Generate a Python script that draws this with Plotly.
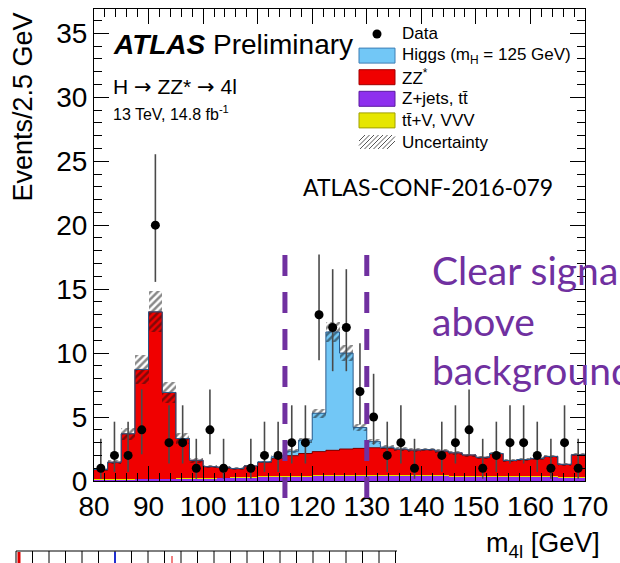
import math
import numpy as np
import plotly.graph_objects as go

# ---------------- data ----------------
bin_lo, bin_hi, bin_w = 80.0, 170.0, 2.5
data_counts = [1, 2, 2, 4, 20, 3, 3, 1, 4, 1, 0, 1, 2, 2, 3, 3, 13, 12, 12, 7, 5, 2, 3, 1,
               0, 2, 3, 4, 1, 2, 3, 3, 2, 1, 3, 1]
zjets = [0.12, 0.14, 0.15, 0.16, 0.17, 0.17, 0.18, 0.19, 0.22, 0.24, 0.27, 0.30,
         0.34, 0.36, 0.38, 0.39, 0.40, 0.41, 0.41, 0.42, 0.42, 0.42, 0.42, 0.41,
         0.41, 0.40, 0.39, 0.38, 0.37, 0.36, 0.35, 0.34, 0.33, 0.32, 0.31, 0.30]
ttv = [0.02] * 12 + [0.04] * 24
zz = [0.76, 1.31, 3.52, 8.54, 13.03, 6.73, 3.12, 1.41, 0.88, 0.81, 0.68, 0.85,
      1.07, 1.35, 1.56, 1.72, 1.86, 1.95, 2.05, 2.09, 2.14, 2.09, 2.01, 1.97,
      2.00, 1.90, 1.77, 1.61, 1.44, 1.75, 1.21, 1.30, 1.38, 1.56, 0.95, 1.71]
higgs = [0.0] * 12 + [0.04, 0.15, 0.35, 1.05, 3.0, 9.25, 7.5, 1.63, 0.48, 0.1, 0.03] + [0.0] * 13
unc = [0.10, 0.17, 0.45, 1.10, 1.60, 0.80, 0.40, 0.20, 0.12, 0.11, 0.10, 0.10,
       0.10, 0.12, 0.15, 0.20, 0.35, 0.80, 0.65, 0.25, 0.18, 0.15, 0.14, 0.14,
       0.14, 0.14, 0.13, 0.12, 0.11, 0.13, 0.10, 0.10, 0.11, 0.12, 0.09, 0.12]
x_ticks = [80, 90, 100, 110, 120, 130, 140, 150, 160, 170]
y_ticks = [0, 5, 10, 15, 20, 25, 30, 35]
window_lo, window_hi = 115, 130

legend_labels = ["Data", "Higgs (m<sub>H</sub> = 125 GeV)", "ZZ<sup>*</sup>",
                 "Z+jets, tt\u0304", "tt\u0304+V, VVV", "Uncertainty"]

# ---------------- styling ----------------
C_HIGGS = "#72C7F6"
C_ZZ = "#F00000"
C_ZJ = "#8E30EE"
C_TTV = "#E6E600"
C_PURPLE = "#7030A0"
FONT = "Liberation Sans, Arial, Helvetica, sans-serif"
FONT2 = "Lato, Open Sans, sans-serif"

W, H = 620, 563
ML, MR, MT, MB = 94, 35, 9, 82
PW, PH = W - ML - MR, H - MT - MB


def px(x):
    return (x - ML) / PW


def py(y):
    return (H - MB - y) / PH


edges = np.arange(bin_lo, bin_hi + 1e-9, bin_w)
centers = edges[:-1] + bin_w / 2
zj = np.array(zjets)
tv = np.array(ttv)
zzv = np.array(zz)
hg = np.array(higgs)
un = np.array(unc)
base_ttv = zj
base_zz = zj + tv
bkg = zj + tv + zzv
total = bkg + hg


# Garwood (Poisson) 68% intervals for the data error bars
def pcdf(k, lam):
    s, term = 0.0, math.exp(-lam)
    for i in range(k + 1):
        if i > 0:
            term *= lam / i
        s += term
    return s


def solve(f, lo, hi):
    for _ in range(100):
        mid = 0.5 * (lo + hi)
        if f(mid) > 0:
            lo = mid
        else:
            hi = mid
    return 0.5 * (lo + hi)


a = 0.158655
cnt = np.array(data_counts)
mask = cnt > 0
err_up, err_dn = [], []
for n in cnt[mask]:
    n = int(n)
    up = solve(lambda l: pcdf(n, l) - a, n, n + 30)
    lo = solve(lambda l: pcdf(n - 1, l) - (1 - a), 0.0, n + 5)
    err_up.append(up - n)
    err_dn.append(n - lo)

fig = go.Figure()
bar_common = dict(x=centers, width=bin_w, showlegend=False, hoverinfo="skip")
fig.add_trace(go.Bar(y=zj, base=0, marker=dict(color=C_ZJ, line_width=0), **bar_common))
fig.add_trace(go.Bar(y=tv, base=base_ttv, marker=dict(color=C_TTV, line_width=0), **bar_common))
fig.add_trace(go.Bar(y=zzv, base=base_zz, marker=dict(color=C_ZZ, line_width=0), **bar_common))
fig.add_trace(go.Bar(y=hg, base=bkg, marker=dict(color=C_HIGGS, line_width=0), **bar_common))

# outlines (step)
step_x = list(edges)
fig.add_trace(go.Scatter(x=step_x, y=list(bkg) + [bkg[-1]], mode="lines",
                         line=dict(shape="hv", color="#7a0000", width=1),
                         showlegend=False, hoverinfo="skip"))
fig.add_trace(go.Scatter(x=step_x, y=list(total) + [total[-1]], mode="lines",
                         line=dict(shape="hv", color="#2a5a8a", width=1),
                         showlegend=False, hoverinfo="skip"))

# uncertainty hatch
fig.add_trace(go.Bar(y=2 * un, base=total - un,
                     marker=dict(color="rgba(0,0,0,0)", line_width=0,
                                 pattern=dict(shape="/", fgcolor="#111111",
                                              bgcolor="rgba(0,0,0,0)", size=5, solidity=0.5)),
                     **bar_common))

# data
fig.add_trace(go.Scatter(x=centers[mask], y=cnt[mask], mode="markers",
                         marker=dict(color="black", size=9),
                         error_y=dict(type="data", symmetric=False, array=err_up,
                                      arrayminus=err_dn, width=0, thickness=1.6,
                                      color="#4a4a4a"),
                         showlegend=False, hoverinfo="skip"))

axis_common = dict(showgrid=False, zeroline=False, showline=True, linecolor="black",
                   linewidth=1, mirror="allticks", ticks="inside", ticklen=15,
                   tickwidth=1, tickcolor="black",
                   tickfont=dict(family=FONT, size=28, color="black"))
fig.update_xaxes(range=[bin_lo, bin_hi], tickvals=x_ticks,
                 minor=dict(dtick=2, tick0=80, ticks="inside", ticklen=8, tickcolor="black"),
                 **axis_common)
fig.update_yaxes(range=[0, 36.9], tickvals=y_ticks,
                 minor=dict(dtick=1, tick0=0, ticks="inside", ticklen=8, tickcolor="black"),
                 **axis_common)

shapes = []
for xv in (window_lo, window_hi):
    shapes.append(dict(type="line", xref="x", yref="paper", x0=xv, x1=xv,
                       y0=py(255), y1=py(500), layer="above",
                       line=dict(color=C_PURPLE, width=5, dash="21px,16px")))

# legend boxes
leg_y = [34, 55.6, 77.2, 98.8, 120.4, 142]
box_cols = [None, C_HIGGS, C_ZZ, C_ZJ, C_TTV, None]
box_line = [None, "#3d7fb5", "#a00000", "#5a1aa0", "#a0a000", None]
for i in range(1, 5):
    shapes.append(dict(type="rect", xref="paper", yref="paper",
                       x0=px(359), x1=px(395), y0=py(leg_y[i] + 7.5), y1=py(leg_y[i] - 7.5),
                       fillcolor=box_cols[i], line=dict(color=box_line[i], width=1)))
# hatch box for uncertainty
for k in range(9):
    xs = 359 + k * 4.5
    x0, y0 = xs - 8, leg_y[5] + 7
    x1, y1 = xs + 6, leg_y[5] - 7
    if x0 < 359:
        y0 = y0 - (359 - x0)
        x0 = 359
    if x1 > 395:
        y1 = y1 + (x1 - 395)
        x1 = 395
    if x1 > x0:
        shapes.append(dict(type="line", xref="paper", yref="paper",
                           x0=px(x0), y0=py(y0), x1=px(x1), y1=py(y1),
                           line=dict(color="#555555", width=1)))

# fragment of a second plot at the bottom
shapes.append(dict(type="line", xref="paper", yref="paper", x0=px(16), x1=px(397),
                   y0=py(551), y1=py(551), line=dict(color="black", width=1)))
for k in range(24):
    xx = 16 + 16.5 * k
    if xx <= 397:
        shapes.append(dict(type="line", xref="paper", yref="paper", x0=px(xx), x1=px(xx),
                           y0=py(551), y1=py(563), line=dict(color="black", width=1)))
shapes.append(dict(type="line", xref="paper", yref="paper", x0=px(19), x1=px(19),
                   y0=py(552), y1=py(563), line=dict(color="#e00000", width=3)))
shapes.append(dict(type="line", xref="paper", yref="paper", x0=px(115), x1=px(115),
                   y0=py(552), y1=py(563), line=dict(color="#2030d0", width=2)))
shapes.append(dict(type="line", xref="paper", yref="paper", x0=px(172), x1=px(172),
                   y0=py(556), y1=py(563), line=dict(color="#f08080", width=2)))

annotations = []


def ann(text, x, y, size, family=FONT, color="black", xanchor="left", yanchor="middle", angle=0):
    annotations.append(dict(text=text, x=px(x), y=py(y), xref="paper", yref="paper",
                            xanchor=xanchor, yanchor=yanchor, showarrow=False, textangle=angle,
                            font=dict(family=family, size=size, color=color)))


ARROW = '<span style="font-family:DejaVu Sans">\u2192</span>'
ann("<b><i>ATLAS</i></b> Preliminary", 111, 44, 28)
ann("H " + ARROW + " ZZ* " + ARROW + " 4l", 111, 87, 21)
ann("13 TeV, 14.8 fb<sup>-1</sup>", 111, 113, 16)
for i, lab in enumerate(legend_labels):
    ann(lab, 400, leg_y[i], 17)
ann("ATLAS-CONF-2016-079", 301, 187, 23, family=FONT2)
ann("Clear signal", 430, 270, 39, family=FONT2, color=C_PURPLE)
ann("above", 430, 321, 39, family=FONT2, color=C_PURPLE)
ann("background", 430, 370, 39, family=FONT2, color=C_PURPLE)
ann("Events/2.5 GeV", 22, 11, 27, xanchor="center", yanchor="top", angle=-90)
ann("m<sub>4l</sub> [GeV]", 602, 545, 27, xanchor="right")

# data legend marker
fig.add_trace(go.Scatter(x=[px(377)], y=[py(leg_y[0])], xaxis="x2", yaxis="y2",
                         mode="markers", marker=dict(color="black", size=9),
                         showlegend=False, hoverinfo="skip"))

fig.update_layout(
    width=W, height=H, margin=dict(l=ML, r=MR, t=MT, b=MB),
    paper_bgcolor="white", plot_bgcolor="white",
    barmode="overlay", bargap=0, showlegend=False,
    shapes=shapes, annotations=annotations,
    xaxis2=dict(domain=[0, 1], range=[0, 1], overlaying="x", visible=False, anchor="y2"),
    yaxis2=dict(domain=[0, 1], range=[0, 1], overlaying="y", visible=False, anchor="x2"),
)
fig.update_traces(cliponaxis=False, selector=dict(xaxis="x2"))

fig.write_html("out.html")
